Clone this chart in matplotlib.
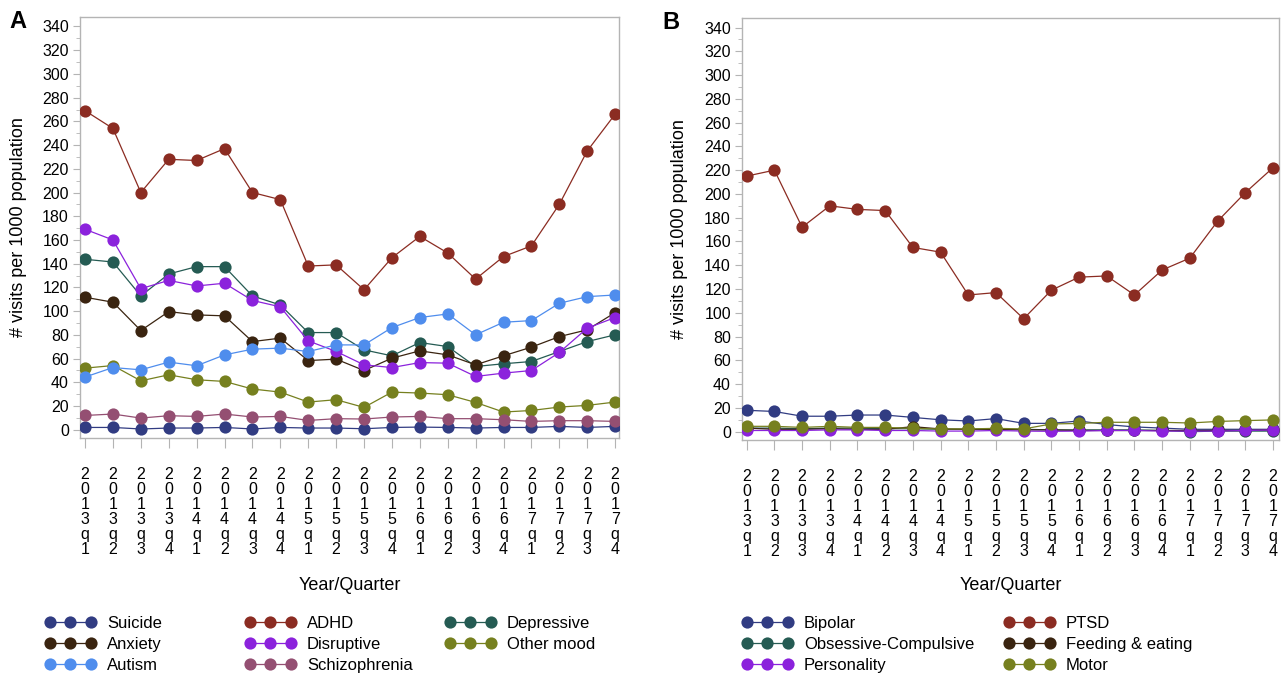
import numpy as np
import matplotlib
matplotlib.use("Agg")
import matplotlib.pyplot as plt

plt.rcParams['font.family'] = ['Liberation Sans', 'DejaVu Sans']

quarters = [f"{y}q{q}" for y in range(2013, 2018) for q in range(1, 5)]

# Panel A series
suicide = [1.9, 1.9, 0.6, 1.4, 1.4, 1.9, 0.6, 1.9, 1.4, 1.4, 0.8, 1.9, 2.2, 1.9, 1.4, 1.9, 1.9, 2.8, 1.9, 2.8]
adhd = [269, 254, 200, 228, 227, 237, 200, 194, 138, 139, 118, 145, 163, 149, 127, 146, 155, 190, 235, 266]
depressive = [143.7, 141.4, 112.8, 131.3, 137.5, 137.5, 112.8, 105.2, 81.9, 81.9, 67.3, 62.3, 73.5, 70.1, 53.3, 55.6, 57.5, 65.9, 74.3, 80.0]
anxiety = [111.7, 107.5, 83.6, 99.6, 96.8, 96.0, 74.3, 77.2, 58.3, 59.5, 49.9, 60.3, 66.5, 63.1, 54.7, 62.3, 69.6, 78.5, 84.2, 98.7]
disruptive = [169, 160, 118.9, 125.9, 121.2, 123.5, 109.0, 103.6, 74.9, 66.0, 54.7, 52.4, 56.6, 56.1, 44.9, 47.7, 49.9, 65.1, 85.6, 94.6]
other_mood = [51.9, 54.1, 41.2, 46.3, 42.1, 40.7, 34.3, 31.7, 23.3, 25.3, 18.8, 31.7, 30.9, 29.5, 23.0, 14.9, 16.2, 19.1, 20.5, 23.3]
autism = [44.4, 52.4, 50.5, 57.0, 53.9, 63.1, 67.9, 68.8, 65.9, 71.5, 71.5, 86.1, 94.6, 97.6, 80.0, 90.6, 92.0, 106.6, 112.2, 113.6]
schizophrenia = [12.0, 13.2, 9.8, 11.8, 11.2, 13.2, 10.7, 11.2, 7.8, 9.3, 9.0, 10.7, 11.2, 9.3, 9.3, 8.4, 7.0, 7.6, 7.6, 7.0]

# Panel B series
bipolar = [18, 17, 13, 13, 14, 14, 12, 10, 9, 11, 7, 7, 9, 6, 4, 3, 2, 2, 2, 2]
ptsd = [215, 220, 172, 190, 187, 186, 155, 151, 115, 117, 95, 119, 130, 131, 115, 136, 146, 177, 201, 222]
obsessive = [3, 3, 2.5, 3, 3, 2.5, 2.5, 2, 2, 2, 2, 1.5, 1.5, 1.5, 1.5, 1, 0, 0.5, 0.5, 0.5]
feeding = [3, 2, 2, 2.5, 2, 2, 4.2, 2.3, 2, 2, 1.5, 1.5, 1, 1, 1, 1, 1, 1, 1, 1.5]
personality = [1, 1, 1, 1.5, 1.5, 1, 1, 0.5, 0.5, 1, 0.5, 0.3, 0.5, 1, 1, 0.5, 0.5, 0.5, 1, 1.5]
motor = [4.5, 4.5, 3.6, 4.5, 3.6, 3.6, 2.8, 2.3, 2.3, 2.8, 2.3, 6.5, 6.9, 7.9, 7.9, 7.9, 7.3, 8.6, 9.3, 9.9]

C_NAVY = "#313c82"
C_RED = "#8b2c22"
C_TEAL = "#255b53"
C_BROWN = "#3a2410"
C_PURPLE = "#8b22dc"
C_OLIVE = "#76801f"
C_BLUE = "#4f8ded"
C_MAUVE = "#944f72"

# draw order (row-major), legend order (column-major)
series_a = [("Suicide", suicide, C_NAVY), ("ADHD", adhd, C_RED), ("Depressive", depressive, C_TEAL),
            ("Anxiety", anxiety, C_BROWN), ("Disruptive", disruptive, C_PURPLE), ("Other mood", other_mood, C_OLIVE),
            ("Autism", autism, C_BLUE), ("Schizophrenia", schizophrenia, C_MAUVE)]
legend_cols_a = [["Suicide", "Anxiety", "Autism"], ["ADHD", "Disruptive", "Schizophrenia"], ["Depressive", "Other mood"]]

series_b = [("Bipolar", bipolar, C_NAVY), ("PTSD", ptsd, C_RED), ("Obsessive-Compulsive", obsessive, C_TEAL),
            ("Feeding & eating", feeding, C_BROWN), ("Personality", personality, C_PURPLE), ("Motor", motor, C_OLIVE)]
legend_cols_b = [["Bipolar", "Obsessive-Compulsive", "Personality"], ["PTSD", "Feeding & eating", "Motor"]]

W, H = 1287, 675
fig = plt.figure(figsize=(W / 100, H / 100), dpi=100)

GREY = "#b4b4b4"
TICKFS = 11.5


def px_axes(l, t, r, b):
    return fig.add_axes([l / W, 1 - b / H, (r - l) / W, (b - t) / H])


def style(ax, xlim):
    x = np.arange(len(quarters))
    ax.set_xlim(*xlim)
    ax.set_ylim(-7, 348)
    ax.set_yticks(np.arange(0, 341, 20))
    ax.set_yticks(np.arange(10, 341, 20), minor=True)
    ax.set_xticks(x)
    ax.set_xticklabels(["\n".join(q) for q in quarters], fontsize=TICKFS, linespacing=0.99)
    for s in ax.spines.values():
        s.set_color(GREY)
        s.set_linewidth(1.0)
    ax.tick_params(axis='y', which='major', length=5, color=GREY, labelsize=TICKFS, pad=3)
    ax.tick_params(axis='y', which='minor', length=3, color=GREY)
    ax.tick_params(axis='x', which='major', length=7, color=GREY, labelsize=TICKFS, pad=14)
    ax.set_ylabel("# visits per 1000 population", fontsize=13)
    ax.set_xlabel("Year/Quarter", fontsize=13)


def draw(ax, series):
    x = np.arange(len(quarters))
    handles = {}
    for name, vals, col in series:
        h, = ax.plot(x, vals, color=col, lw=0.9, marker='o', markersize=8.8,
                     markeredgewidth=0, label=name, zorder=3)
        handles[name] = h
    return handles


def legends(handles, cols, xs, ytop):
    for cx, names in zip(xs, cols):
        fig.legend([handles[n] for n in names], names, loc='upper left',
                   bbox_to_anchor=(cx / W, 1 - ytop / H), frameon=False,
                   fontsize=12, numpoints=3, handlelength=3.05, handletextpad=0.66,
                   borderpad=0, borderaxespad=0, labelspacing=0.36)


axA = px_axes(80, 17, 619, 438)
hA = draw(axA, series_a)
style(axA, (-0.18, 19.14))
axA.yaxis.set_label_coords(-0.098, 0.5)
axA.xaxis.set_label_coords(0.5, -0.33)

axB = px_axes(742, 18, 1279, 440)
hB = draw(axB, series_b)
style(axB, (-0.17, 19.22))
axB.yaxis.set_label_coords(-0.10, 0.5)
axB.xaxis.set_label_coords(0.5, -0.324)

legends(hA, legend_cols_a, [45, 245, 445], 616)
legends(hB, legend_cols_b, [742, 1004], 616)

fig.text(9 / W, 1 - 10 / H, "A", fontsize=17, fontweight='bold', va='top', ha='left')
fig.text(662 / W, 1 - 11 / H, "B", fontsize=17, fontweight='bold', va='top', ha='left')

fig.savefig("out.png", dpi=100)
